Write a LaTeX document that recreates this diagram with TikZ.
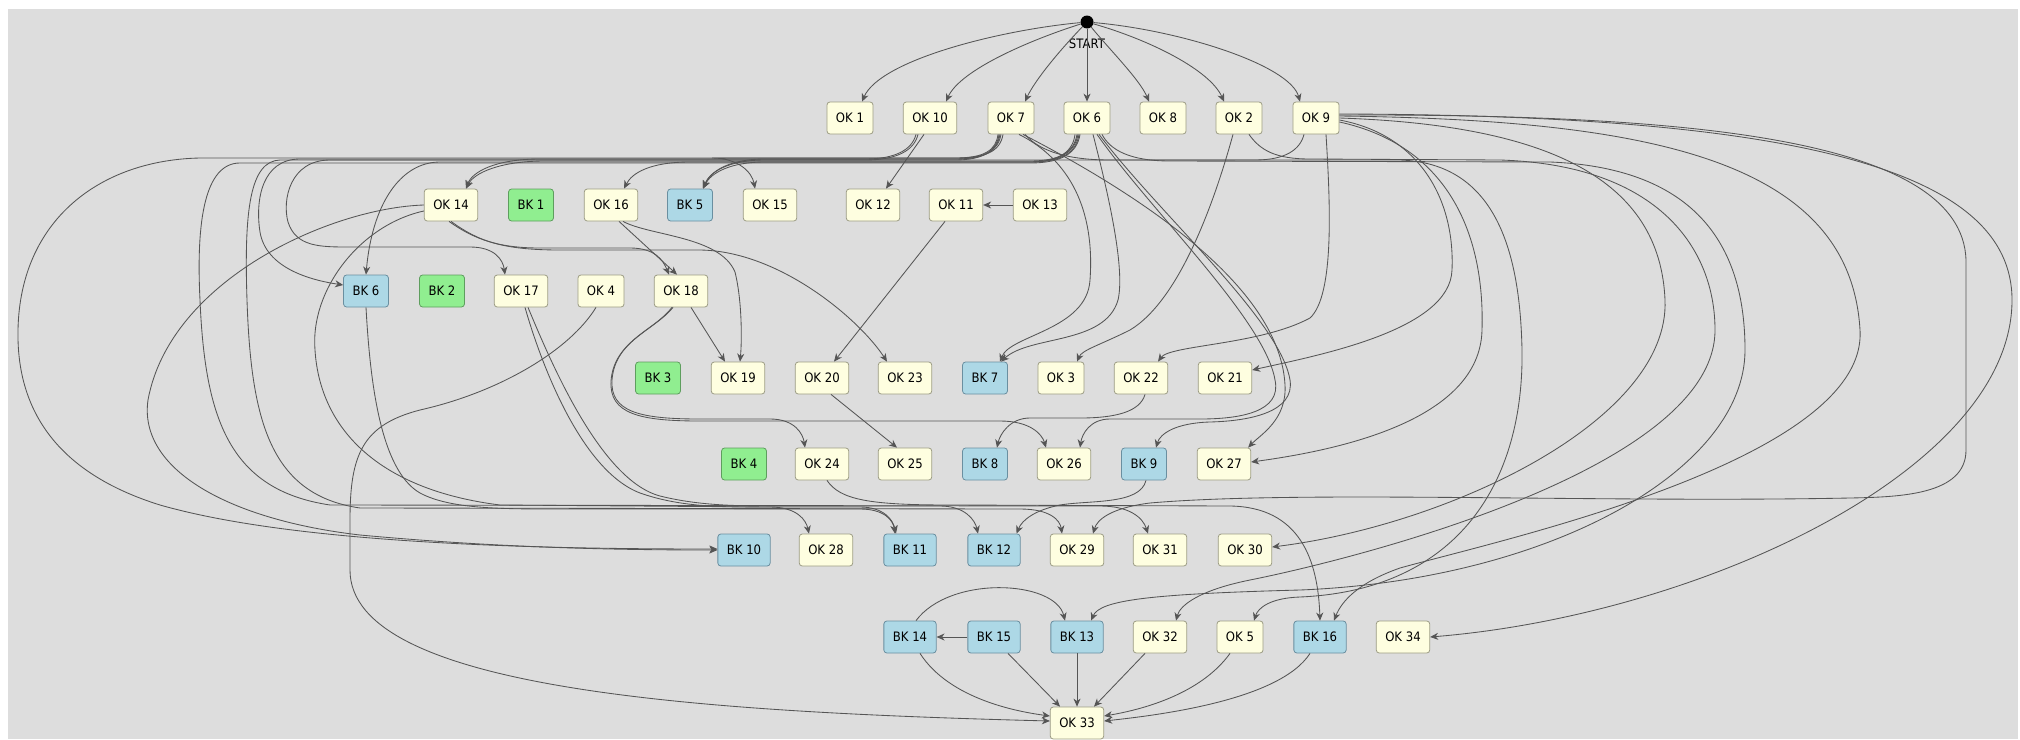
\documentclass[tikz,border=0pt]{standalone}
\usepackage{fontspec}
\setmainfont{DejaVu Sans}[FakeStretch=0.9]
\usetikzlibrary{arrows.meta}
\definecolor{bgc}{HTML}{DDDDDD}
\definecolor{okfill}{HTML}{FEFEE0}
\definecolor{okdraw}{HTML}{9C9C84}
\definecolor{bkbfill}{HTML}{ADD8E6}
\definecolor{bkbdraw}{HTML}{6A8FA0}
\definecolor{bkgfill}{HTML}{90EE90}
\definecolor{bkgdraw}{HTML}{5E9E5E}
\definecolor{edgec}{HTML}{555555}
\tikzset{
  box/.style={rectangle, rounded corners=3pt, minimum height=32pt, inner xsep=9pt, inner ysep=0pt, font=\fontsize{13}{15}\selectfont, line width=0.8pt},
  ok/.style={box, fill=okfill, draw=okdraw},
  bkb/.style={box, fill=bkbfill, draw=bkbdraw},
  bkg/.style={box, fill=bkgfill, draw=bkgdraw},
  e/.style={draw=edgec, line width=0.85pt, -{Stealth[length=8pt,width=7pt,inset=2.5pt]}},
}
\begin{document}
\begin{tikzpicture}[x=1pt,y=-1pt]
\useasboundingbox (0,0) rectangle (2020,739);
\fill[white] (0,0) rectangle (2020,739);
\fill[bgc] (8,9) rectangle (2018,739);

% nodes
\node[circle,fill=black,minimum size=13pt,inner sep=0pt] (start) at (1087,22) {};
\node[font=\fontsize{13}{15}\selectfont] (startlbl) at (1087,44) {START};

\node[ok] (ok1) at (850,118) {OK 1};
\node[ok] (ok10) at (930,118) {OK 10};
\node[ok] (ok7) at (1011,118) {OK 7};
\node[ok] (ok6) at (1087,118) {OK 6};
\node[ok] (ok8) at (1163,118) {OK 8};
\node[ok] (ok2) at (1239,118) {OK 2};
\node[ok] (ok9) at (1316,118) {OK 9};

\node[ok] (ok14) at (451,205) {OK 14};
\node[bkg] (bk1) at (531,205) {BK 1};
\node[ok] (ok16) at (611,205) {OK 16};
\node[bkb] (bk5) at (690,205) {BK 5};
\node[ok] (ok15) at (770,205) {OK 15};
\node[ok] (ok12) at (873,205) {OK 12};
\node[ok] (ok11) at (956,205) {OK 11};
\node[ok] (ok13) at (1040,205) {OK 13};

\node[bkb] (bk6) at (366,291) {BK 6};
\node[bkg] (bk2) at (442,291) {BK 2};
\node[ok] (ok17) at (521,291) {OK 17};
\node[ok] (ok4) at (601,291) {OK 4};
\node[ok] (ok18) at (681,291) {OK 18};

\node[bkg] (bk3) at (658,378) {BK 3};
\node[ok] (ok19) at (738,378) {OK 19};
\node[ok] (ok20) at (822,378) {OK 20};
\node[ok] (ok23) at (905,378) {OK 23};
\node[bkb] (bk7) at (985,378) {BK 7};
\node[ok] (ok3) at (1061,378) {OK 3};
\node[ok] (ok22) at (1141,378) {OK 22};
\node[ok] (ok21) at (1225,378) {OK 21};

\node[bkg] (bk4) at (744,464) {BK 4};
\node[ok] (ok24) at (822,464) {OK 24};
\node[ok] (ok25) at (905,464) {OK 25};
\node[bkb] (bk8) at (985,464) {BK 8};
\node[ok] (ok26) at (1064,464) {OK 26};
\node[bkb] (bk9) at (1144,464) {BK 9};
\node[ok] (ok27) at (1224,464) {OK 27};

\node[bkb] (bk10) at (744,550) {BK 10};
\node[ok] (ok28) at (826,550) {OK 28};
\node[bkb] (bk11) at (910,550) {BK 11};
\node[bkb] (bk12) at (994,550) {BK 12};
\node[ok] (ok29) at (1077,550) {OK 29};
\node[ok] (ok31) at (1160,550) {OK 31};
\node[ok] (ok30) at (1245,550) {OK 30};

\node[bkb] (bk14) at (910,637) {BK 14};
\node[bkb] (bk15) at (994,637) {BK 15};
\node[bkb] (bk13) at (1077,637) {BK 13};
\node[ok] (ok32) at (1160,637) {OK 32};
\node[ok] (ok5) at (1240,637) {OK 5};
\node[bkb] (bk16) at (1320,637) {BK 16};
\node[ok] (ok34) at (1403,637) {OK 34};

\node[ok] (ok33) at (1077,723) {OK 33};

% START edges
\draw[e] (start) .. controls (1000,30) and (880,60) .. ([xshift=12pt]ok1.north);
\draw[e] (start) .. controls (1030,40) and (960,70) .. ([xshift=16pt]ok10.north);
\draw[e] (start) .. controls (1060,50) and (1035,80) .. ([xshift=14pt]ok7.north);
\draw[e] (start) -- (ok6.north);
\draw[e] (start) .. controls (1110,50) and (1140,80) .. ([xshift=-14pt]ok8.north);
\draw[e] (start) .. controls (1150,40) and (1210,70) .. ([xshift=-15pt]ok2.north);
\draw[e] (start) .. controls (1180,30) and (1290,65) .. ([xshift=-16pt]ok9.north);

% local edges
\draw[e] (ok13.west) -- (ok11.east);
\draw[e] ([xshift=-6pt]ok10.south) -- ([xshift=13pt]ok12.north);
\draw[e] ([xshift=-11pt]ok11.south) -- ([xshift=12pt]ok20.north);
\draw[e] ([xshift=9pt]ok20.south) -- ([xshift=-8pt]ok25.north);

% bus left, row 2 targets
\draw[e] ([xshift=-14pt]ok10.south) .. controls (912,150) and (895,159) .. (865,159) -- (765,159) .. controls (728,159) and (710,172) .. ([xshift=13pt]bk5.north);
\draw[e] ([xshift=-12pt]ok7.south) .. controls (997,150) and (985,160) .. (955,160) -- (765,160) .. controls (728,160) and (710,172) .. ([xshift=13pt]bk5.north);
\draw[e] ([xshift=-12pt]ok6.south) .. controls (1073,151) and (1060,162) .. (1030,162) -- (765,162) .. controls (730,162) and (711,173) .. ([xshift=13pt]bk5.north);
\draw[e] ([xshift=-10pt]ok7.south) .. controls (998,151) and (985,159) .. (955,159) -- (540,159) .. controls (495,159) and (472,172) .. ([xshift=15pt]ok14.north);
\draw[e] ([xshift=-10pt]ok6.south) .. controls (1074,152) and (1060,161) .. (1030,161) -- (545,161) .. controls (500,161) and (474,173) .. ([xshift=15pt]ok14.north);
\draw[e] ([xshift=-8pt]ok6.south) .. controls (1076,153) and (1062,162) .. (1030,162) -- (690,162) .. controls (650,162) and (632,173) .. ([xshift=13pt]ok16.north);
\draw[e] ([xshift=-8pt]ok7.south) .. controls (1000,152) and (985,158) .. (955,158) -- (712,158) .. controls (738,158) and (752,172) .. ([xshift=-15pt]ok15.north);

% bus left loops
\draw[e] ([xshift=-9pt]ok6.south) .. controls (1075,152) and (1060,162) .. (1030,162) -- (440,162) .. controls (400,162) and (372,205) .. (bk6.north);
\draw[e] ([xshift=-11pt]ok7.south) .. controls (997,151) and (985,159) .. (955,159) -- (300,159) .. controls (262,159) and (255,200) .. (260,232) .. controls (266,268) and (310,280) .. ([yshift=6pt]bk6.west);
\draw[e] ([xshift=-12pt]ok9.south) .. controls (1300,150) and (1285,160) .. (1255,160) -- (330,160) .. controls (290,160) and (282,200) .. (288,222) .. controls (296,247) and (320,247) .. (350,247) -- (470,247) .. controls (495,247) and (503,260) .. ([xshift=-16pt]ok17.north);
\draw[e] ([xshift=-13pt]ok7.south) .. controls (996,150) and (985,158) .. (955,158) -- (200,158) .. controls (100,160) and (20,220) .. (18,330) .. controls (16,430) and (80,480) .. (160,505) .. controls (300,545) and (550,549) .. ([yshift=1pt]bk10.west);
\draw[e] (ok14.west) .. controls (330,208) and (170,280) .. (148,400) .. controls (138,470) and (230,520) .. (360,535) .. controls (500,548) and (620,550) .. (bk10.west);
\draw[e] ([yshift=-6pt]ok14.west) .. controls (360,225) and (310,290) .. (315,350) .. controls (320,430) and (380,490) .. (500,505) -- (770,507) .. controls (797,507) and (806,520) .. ([xshift=-17pt]ok28.north);
\draw[e] ([xshift=-7pt]ok6.south) .. controls (1077,153) and (1062,163) .. (1030,163) -- (240,163) .. controls (205,163) and (196,220) .. (200,300) .. controls (205,420) and (230,490) .. (330,505) -- (1100,506) .. controls (1130,506) and (1143,518) .. ([xshift=-12pt]ok31.north);
\draw[e] ([xshift=-12pt]ok10.south) .. controls (914,151) and (896,160) .. (865,160) -- (280,160) .. controls (250,161) and (244,210) .. (247,300) .. controls (251,420) and (270,495) .. (360,508) -- (1020,509) .. controls (1050,509) and (1060,520) .. ([xshift=-15pt]ok29.north);

% middle edges
\draw[e] (bk6.south) .. controls (370,380) and (380,470) .. (420,493) .. controls (450,509) and (500,509) .. (560,509) -- (860,509) .. controls (884,509) and (893,520) .. ([xshift=-15pt]bk11.north);
\draw[e] ([xshift=4pt]ok17.south) .. controls (540,360) and (580,470) .. (640,493) .. controls (680,507) and (720,507) .. (760,507) -- (860,507) .. controls (884,507) and (893,520) .. ([xshift=-14pt]bk11.north);
\draw[e] ([xshift=7pt]ok17.south) .. controls (550,360) and (600,480) .. (660,496) .. controls (700,506) and (740,506) .. (780,506) -- (940,506) .. controls (965,506) and (975,520) .. ([xshift=-16pt]bk12.north);
\draw[e] ([xshift=2pt]bk9.south) .. controls (1140,505) and (1090,500) .. (1060,505) .. controls (1035,510) and (1022,520) .. ([xshift=-4pt]bk12.north east);
\draw[e] ([xshift=5pt]ok24.south) .. controls (840,500) and (870,505) .. (950,505) -- (1230,506) .. controls (1300,507) and (1318,560) .. (bk16.north);

\draw[e] ([xshift=-2pt]ok14.south) .. controls (475,240) and (500,248) .. (540,248) -- (630,248) .. controls (655,248) and (663,260) .. ([xshift=-12pt]ok18.north);
\draw[e] (ok14.south) .. controls (478,241) and (502,250) .. (560,250) -- (700,250) .. controls (780,251) and (860,320) .. ([xshift=-18pt]ok23.north);
\draw[e] ([xshift=8pt]ok16.south) -- ([xshift=-4pt]ok18.north);
\draw[e] ([xshift=12pt]ok16.south) .. controls (650,236) and (720,236) .. (735,272) .. controls (742,300) and (742,340) .. ([xshift=2pt]ok19.north);
\draw[e] ([xshift=10pt]ok18.south) -- ([xshift=-13pt]ok19.north);

\draw[e] ([xshift=-8pt]ok18.south) .. controls (655,330) and (615,340) .. (612,380) .. controls (610,412) and (640,419) .. (700,419) -- (770,419) .. controls (795,419) and (803,434) .. ([xshift=-17pt]ok24.north);
\draw[e] ([xshift=-9pt]ok18.south) .. controls (654,331) and (614,341) .. (611,381) .. controls (609,414) and (640,421) .. (700,421) -- (1000,421) .. controls (1030,421) and (1042,434) .. ([xshift=-18pt]ok26.north);

\draw[e] ([xshift=10pt]ok6.south) .. controls (1150,210) and (1265,320) .. (1275,380) .. controls (1282,412) and (1240,419) .. (1200,419) -- (1110,419) .. controls (1090,419) and (1082,434) .. ([xshift=16pt]ok26.north);
\draw[e] ([xshift=12pt]ok6.south) .. controls (1160,215) and (1280,320) .. (1290,380) .. controls (1295,412) and (1250,421) .. (1210,422) .. controls (1175,423) and (1160,434) .. ([xshift=12pt]bk9.north);
\draw[e] ([xshift=4pt]ok22.south) .. controls (1140,412) and (1115,418) .. (1080,418) -- (1030,418) .. controls (1010,418) and (1000,434) .. ([xshift=12pt]bk8.north);
\draw[e] ([xshift=12pt]ok7.south) .. controls (1150,200) and (1280,290) .. (1285,385) .. controls (1287,420) and (1260,435) .. ([xshift=-3pt]ok27.north east);

\draw[e] ([xshift=8pt]ok7.south) .. controls (1070,160) and (1095,210) .. (1090,280) .. controls (1087,330) and (1010,335) .. ([xshift=15pt]bk7.north);
\draw[e] ([xshift=6pt]ok6.south) .. controls (1110,200) and (1125,270) .. (1118,300) .. controls (1105,345) and (1030,335) .. ([xshift=16pt]bk7.north);
\draw[e] ([xshift=-6pt]ok2.south) .. controls (1215,200) and (1180,300) .. (1130,330) .. controls (1100,345) and (1082,350) .. ([xshift=16pt]ok3.north);
\draw[e] ([xshift=10pt]ok9.south) .. controls (1330,200) and (1335,295) .. (1310,318) .. controls (1260,345) and (1170,345) .. ([xshift=17pt]ok22.north);

% right loops
\draw[e] ([yshift=-2pt]ok9.east) .. controls (1420,135) and (1455,200) .. (1452,270) .. controls (1450,330) and (1320,355) .. ([yshift=8pt]ok21.east);
\draw[e] ([yshift=-4pt]ok9.east) .. controls (1445,145) and (1485,230) .. (1482,330) .. controls (1480,420) and (1340,450) .. ([yshift=2pt]ok27.east);
\draw[e] (ok9.east) .. controls (1550,125) and (1660,180) .. (1665,300) .. controls (1670,420) and (1450,525) .. ([yshift=3pt]ok30.east);
\draw[e] ([yshift=2pt]ok9.east) .. controls (1650,120) and (1850,160) .. (1860,330) .. controls (1868,460) and (1500,540) .. (1400,568) .. controls (1360,582) and (1342,600) .. ([xshift=14pt]bk16.north);
\draw[e] ([yshift=3pt]ok9.east) .. controls (1700,114) and (1962,140) .. (1966,260) -- (1966,450) .. controls (1966,495) and (1900,497) .. (1850,498) .. controls (1600,503) and (1300,490) .. (1150,503) .. controls (1110,508) and (1097,520) .. ([xshift=16pt]ok29.north);
\draw[e] ([yshift=4pt]ok9.east) .. controls (1800,115) and (2012,170) .. (2012,300) .. controls (2012,470) and (1700,615) .. (ok34.east);
\draw[e] ([xshift=14pt]ok7.south) .. controls (1040,152) and (1070,160) .. (1110,160) -- (1400,160) .. controls (1495,163) and (1520,250) .. (1522,350) .. controls (1524,480) and (1460,590) .. (1300,597) .. controls (1270,598) and (1258,608) .. ([xshift=14pt]ok5.north);
\draw[e] ([xshift=15pt]ok6.south) .. controls (1110,150) and (1130,161) .. (1170,161) -- (1550,162) .. controls (1700,168) and (1745,250) .. (1745,350) .. controls (1745,470) and (1550,580) .. (1300,590) .. controls (1150,594) and (1100,600) .. ([xshift=14pt]bk13.north);
\draw[e] ([xshift=10pt]ok2.south) .. controls (1260,150) and (1275,159) .. (1310,159) -- (1500,160) .. controls (1660,165) and (1715,250) .. (1715,330) .. controls (1715,470) and (1350,560) .. (1250,580) .. controls (1200,590) and (1180,605) .. ([xshift=16pt]ok32.north);

% bottom
\draw[e] (bk15.west) -- (bk14.east);
\draw[e] ([xshift=6pt]bk14.north) .. controls (950,575) and (1055,580) .. ([xshift=-12pt]bk13.north);
\draw[e] ([xshift=10pt]bk14.south) .. controls (950,700) and (1020,712) .. ([yshift=7pt]ok33.west);
\draw[e] ([xshift=14pt]bk15.south) -- ([xshift=-17pt]ok33.north);
\draw[e] (bk13.south) -- (ok33.north);
\draw[e] ([xshift=-15pt]ok32.south) -- ([xshift=17pt]ok33.north);
\draw[e] ([xshift=-10pt]ok5.south) .. controls (1200,695) and (1140,710) .. ([yshift=7pt]ok33.east);
\draw[e] ([xshift=-10pt]bk16.south) .. controls (1280,700) and (1160,715) .. ([yshift=2pt]ok33.east);
\draw[e] ([xshift=-5pt]ok4.south) .. controls (570,350) and (500,392) .. (420,410) .. controls (362,425) and (350,455) .. (350,520) -- (350,570) .. controls (350,690) and (700,712) .. ([yshift=2pt]ok33.west);
\end{tikzpicture}
\end{document}
